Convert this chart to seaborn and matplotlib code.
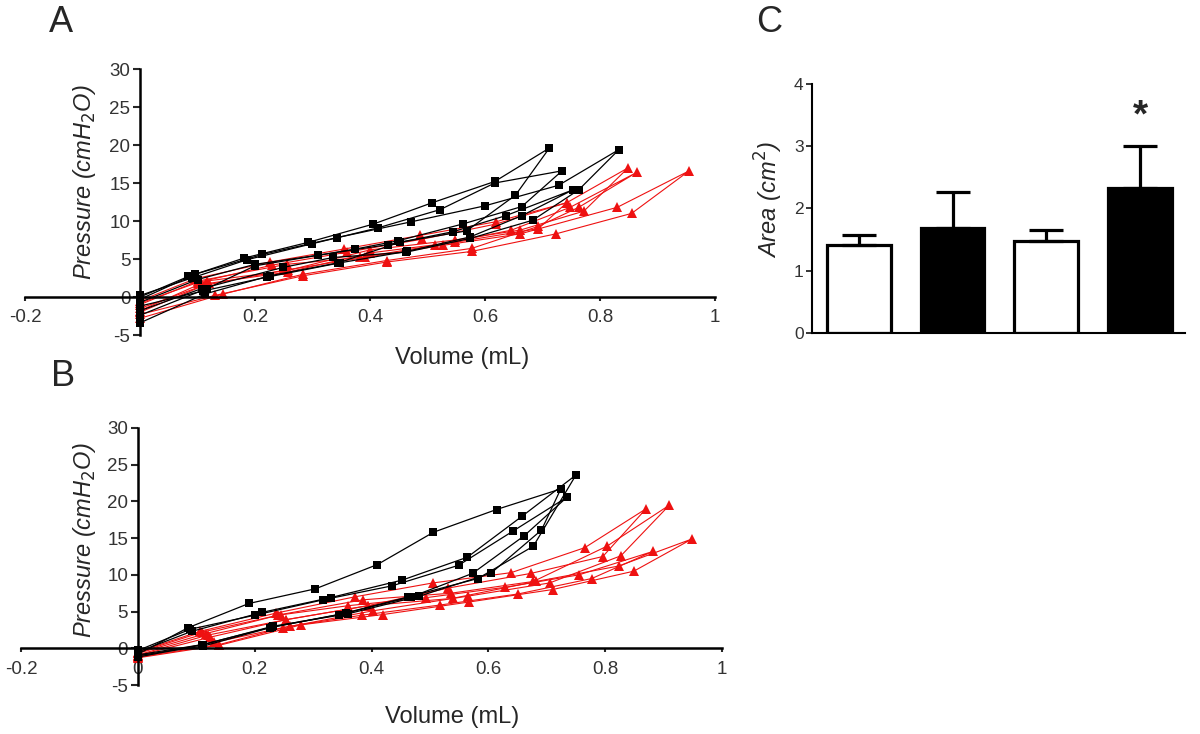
import numpy as np
import pandas as pd
import matplotlib
matplotlib.use('Agg')
import matplotlib.pyplot as plt
import seaborn as sns

# ---- panel A : pressure-volume loops (volume mL, pressure cmH2O)
a_black_vol = [
    [0, 0.084, 0.18, 0.293, 0.406, 0.508, 0.617, 0.712, 0.653, 0.568, 0.452, 0.345, 0.226, 0.113, 0],
    [0, 0.096, 0.213, 0.342, 0.472, 0.60, 0.728, 0.833, 0.763, 0.683, 0.574, 0.463, 0.336, 0.249, 0.107, 0],
    [0, 0.09, 0.186, 0.299, 0.414, 0.522, 0.617, 0.734, 0.664, 0.561, 0.449, 0.374, 0.20, 0.116, 0],
    [0, 0.10, 0.20, 0.31, 0.432, 0.545, 0.636, 0.753, 0.664, 0.574, 0.464, 0.348, 0.22, 0.11, 0],
]
a_black_pres = [
    [0, 2.7, 5.1, 7.2, 9.6, 12.4, 15.2, 19.6, 13.4, 8.7, 7.2, 4.5, 2.8, 0.4, -3.4],
    [-0.3, 3.0, 5.6, 7.8, 9.9, 12.0, 14.7, 19.4, 14.1, 10.1, 7.7, 5.9, 5.2, 3.9, 1.1, -1.8],
    [0.2, 2.5, 4.9, 7.0, 9.1, 11.5, 15.0, 16.6, 11.9, 9.6, 7.4, 6.3, 4.1, 1.1, -2.4],
    [-0.7, 2.3, 4.3, 5.5, 6.9, 8.6, 10.7, 14.1, 10.7, 7.9, 6.0, 4.5, 2.6, 0.8, -1.2],
]
a_red_vol = [
    [0, 0.096, 0.226, 0.354, 0.487, 0.619, 0.742, 0.849, 0.772, 0.661, 0.548, 0.40, 0.258, 0.116, 0],
    [0, 0.101, 0.255, 0.383, 0.513, 0.646, 0.748, 0.864, 0.763, 0.693, 0.577, 0.429, 0.284, 0.145, 0],
    [0, 0.11, 0.249, 0.391, 0.527, 0.661, 0.83, 0.955, 0.855, 0.723, 0.577, 0.429, 0.284, 0.13, 0],
    [0, 0.10, 0.23, 0.36, 0.49, 0.619, 0.742, 0.693, 0.548, 0.40, 0.258, 0.12, 0],
]
a_red_pres = [
    [-0.5, 2.4, 4.6, 6.3, 8.1, 9.9, 12.4, 17.0, 11.3, 8.8, 7.5, 6.2, 3.5, 2.1, -1.8],
    [-1.0, 2.1, 4.3, 5.2, 6.8, 8.8, 11.8, 16.4, 11.8, 9.3, 6.4, 4.8, 3.0, 0.4, -2.8],
    [-1.5, 1.5, 3.5, 5.2, 6.8, 8.3, 11.8, 16.6, 11.0, 8.3, 6.0, 4.6, 2.8, 0.2, -2.3],
    [-0.8, 1.9, 4.2, 5.9, 7.6, 9.6, 12.4, 9.0, 7.2, 5.8, 3.3, 1.8, -2.0],
]

# ---- panel B
b_black_vol = [
    [0, 0.086, 0.19, 0.304, 0.41, 0.506, 0.614, 0.724, 0.691, 0.604, 0.482, 0.36, 0.231, 0.112, 0],
    [0, 0.092, 0.213, 0.33, 0.453, 0.564, 0.658, 0.75, 0.677, 0.582, 0.463, 0.345, 0.226, 0.112, 0],
    [0, 0.09, 0.20, 0.317, 0.435, 0.549, 0.643, 0.735, 0.661, 0.573, 0.468, 0.357, 0.23, 0.11, 0],
]
b_black_pres = [
    [-0.8, 2.8, 6.1, 8.1, 11.4, 15.8, 18.9, 21.7, 16.1, 10.2, 7.1, 4.7, 3.0, 0.5, -1.2],
    [-0.5, 2.3, 4.9, 6.9, 9.3, 12.4, 18.0, 23.6, 13.9, 9.5, 7.0, 4.6, 2.8, 0.3, -1.0],
    [-0.3, 2.6, 4.5, 6.6, 8.5, 11.3, 16.0, 20.6, 15.3, 10.2, 7.0, 4.8, 2.9, 0.5, -0.9],
]
b_red_vol = [
    [0, 0.106, 0.237, 0.371, 0.505, 0.639, 0.765, 0.87, 0.796, 0.673, 0.531, 0.394, 0.254, 0.123, 0],
    [0, 0.116, 0.245, 0.385, 0.536, 0.677, 0.803, 0.91, 0.827, 0.705, 0.565, 0.402, 0.249, 0.139, 0],
    [0, 0.12, 0.254, 0.394, 0.539, 0.682, 0.823, 0.949, 0.849, 0.71, 0.567, 0.42, 0.28, 0.139, 0],
    [0, 0.11, 0.24, 0.36, 0.494, 0.628, 0.755, 0.882, 0.777, 0.651, 0.518, 0.383, 0.26, 0.13, 0],
]
b_red_pres = [
    [-0.5, 2.3, 4.8, 7.0, 8.9, 10.3, 13.7, 19.0, 12.5, 10.2, 8.2, 5.8, 3.9, 1.5, -1.0],
    [-0.7, 2.0, 4.6, 6.6, 7.5, 9.1, 13.9, 19.5, 12.6, 8.9, 7.1, 5.1, 2.8, 0.5, -1.2],
    [-0.9, 1.8, 3.9, 5.8, 6.8, 9.1, 11.2, 14.9, 10.5, 8.0, 6.3, 4.6, 3.2, 0.4, -1.3],
    [-0.6, 2.2, 4.5, 5.8, 6.9, 8.3, 10.0, 13.2, 9.5, 7.4, 5.9, 4.5, 3.0, 0.8, -1.1],
]

# ---- panel C : hysteresis area
bar_groups = ['g1', 'g2', 'g3', 'g4']
area_mean = [1.41, 1.68, 1.48, 2.33]
area_err = [0.16, 0.58, 0.17, 0.68]
bar_colors = ['white', 'black', 'white', 'black']
x_ticks = [-0.2, 0, 0.2, 0.4, 0.6, 0.8, 1.0]


def loops_to_df(vols, pres):
    rows = []
    for i, (v, p) in enumerate(zip(vols, pres)):
        for j in range(len(v)):
            rows.append({'loop': i, 'order': j, 'volume': v[j], 'pressure': p[j]})
    return pd.DataFrame(rows)


sns.set_theme(style='white')
plt.rcParams['font.family'] = ['Liberation Sans', 'DejaVu Sans']
plt.rcParams['axes.unicode_minus'] = False

fig = plt.figure(figsize=(12, 7.34), dpi=100)


def pv_panel(rect, black_v, black_p, red_v, red_p, xlabels):
    ax = fig.add_axes(rect)
    red_df = loops_to_df(red_v, red_p)
    black_df = loops_to_df(black_v, black_p)
    sns.lineplot(data=red_df, x='volume', y='pressure', units='loop', estimator=None,
                 sort=False, color='#ee1111', marker='^', markersize=6.5,
                 markeredgecolor='#ee1111', markeredgewidth=0, linewidth=0.8, ax=ax)
    sns.lineplot(data=black_df, x='volume', y='pressure', units='loop', estimator=None,
                 sort=False, color='black', marker='s', markersize=5.5,
                 markeredgecolor='black', markeredgewidth=0, linewidth=0.9, ax=ax)
    ax.set_xlim(-0.2, 1.0)
    ax.set_ylim(-5, 30)
    ax.spines['left'].set_position(('data', 0))
    ax.spines['bottom'].set_position(('data', 0))
    ax.spines['top'].set_visible(False)
    ax.spines['right'].set_visible(False)
    for s in ['left', 'bottom']:
        ax.spines[s].set_linewidth(1.8)
        ax.spines[s].set_color('black')
    ax.set_xticks(x_ticks)
    ax.set_xticklabels(xlabels)
    ax.set_yticks(range(-5, 31, 5))
    ax.tick_params(axis='x', bottom=True, direction='out', length=3, width=1.5,
                   labelsize=13.5, labelcolor='#333333', pad=6)
    ax.tick_params(axis='y', left=True, direction='out', length=5, width=1.5,
                   labelsize=13.5, labelcolor='#333333', pad=2)
    ax.set_xlabel('')
    ax.set_ylabel('')
    return ax


axA = pv_panel([25 / 1200, 1 - 335 / 734, 690 / 1200, 266 / 734],
               a_black_vol, a_black_pres, a_red_vol, a_red_pres,
               ['-0.2', '', '0.2', '0.4', '0.6', '0.8', '1'])
axB = pv_panel([21 / 1200, 1 - 685 / 734, 701 / 1200, 257 / 734],
               b_black_vol, b_black_pres, b_red_vol, b_red_pres,
               ['-0.2', '0', '0.2', '0.4', '0.6', '0.8', '1'])

fig.text(84 / 1200, 1 - 182 / 734, 'Pressure (cmH$_2$O)', rotation=90, fontsize=17,
         style='italic', ha='center', va='center')
fig.text(462 / 1200, 1 - 358 / 734, 'Volume (mL)', fontsize=17, ha='center', va='center')
fig.text(84 / 1200, 1 - 540 / 734, 'Pressure (cmH$_2$O)', rotation=90, fontsize=17,
         style='italic', ha='center', va='center')
fig.text(452 / 1200, 1 - 717 / 734, 'Volume (mL)', fontsize=17, ha='center', va='center')

# ---- panel C
axC = fig.add_axes([812 / 1200, 1 - 333 / 734, 373 / 1200, 249 / 734])
sns.barplot(x=bar_groups, y=area_mean, hue=bar_groups, palette=bar_colors, legend=False,
            edgecolor='black', linewidth=2.3, width=0.68, ax=axC)
axC.errorbar(x=range(len(bar_groups)), y=area_mean, yerr=[np.zeros(4), area_err],
             fmt='none', ecolor='black', elinewidth=2.3, capsize=12, capthick=2.3, zorder=1)
axC.set_xlim(-0.5, 3.48)
axC.set_ylim(0, 4)
axC.set_yticks(range(0, 5))
axC.set_xticks([])
axC.spines['top'].set_visible(False)
axC.spines['right'].set_visible(False)
for s in ['left', 'bottom']:
    axC.spines[s].set_linewidth(1.5)
    axC.spines[s].set_color('black')
axC.tick_params(axis='y', left=True, direction='out', length=4, width=1.3,
                labelsize=12.5, labelcolor='#333333', pad=2)
axC.set_ylabel('')
axC.text(3, 3.48, '*', ha='center', va='center', fontsize=28, fontweight='bold')
fig.text(769 / 1200, 1 - 200 / 734, 'Area (cm$^2$)', rotation=90, fontsize=17,
         style='italic', ha='center', va='center')

# panel letters
fig.text(61 / 1200, 1 - 22 / 734, 'A', fontsize=26, ha='center', va='center')
fig.text(63 / 1200, 1 - 377 / 734, 'B', fontsize=26, ha='center', va='center')
fig.text(769 / 1200, 1 - 22 / 734, 'C', fontsize=26, ha='center', va='center')

fig.savefig('out.png', dpi=100, facecolor='white')
